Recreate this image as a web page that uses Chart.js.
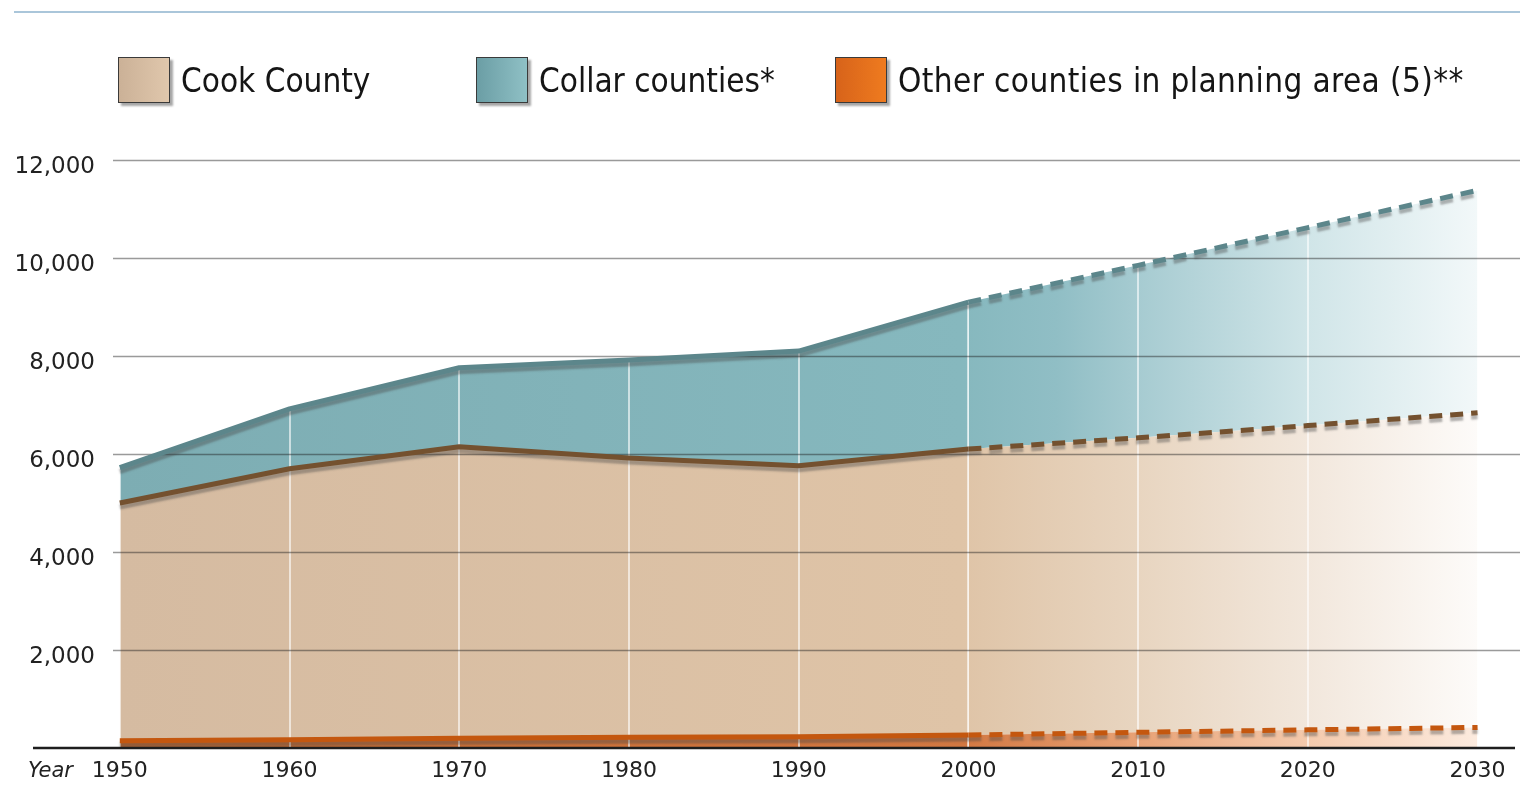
<!DOCTYPE html>
<html>
<head>
<meta charset="utf-8">
<script src="https://cdn.jsdelivr.net/npm/chart.js@4/dist/chart.umd.min.js"></script>
<style>
  body { margin: 0; background: #fff; }
  #wrap { position: relative; width: 1520px; height: 786px; }
  #regua { position: absolute; left: 14px; right: 0; top: 11px; height: 2px; background: #aac6da; }
  .item { position: absolute; top: 57px; height: 46px; display: flex; align-items: center; }
  .caixa { width: 50px; height: 44px; border: 1px solid #3a3a3a; box-shadow: 3px 3px 2px rgba(0,0,0,0.35); }
  .texto { margin-left: 11px; font-family: 'DejaVu Sans Condensed', 'DejaVu Sans', sans-serif; font-stretch: condensed; font-size: 33px; color: #151515; }
</style>
</head>
<body>
<div id="wrap">
  <canvas id="grafico"></canvas>
  <div id="regua"></div>
  <div class="item" style="left:118px"><div class="caixa" style="background:linear-gradient(90deg,#cbb197,#e0c7ac)"></div><span class="texto">Cook County</span></div>
  <div class="item" style="left:476px"><div class="caixa" style="background:linear-gradient(90deg,#6b9ea5,#8fc0c5)"></div><span class="texto">Collar counties*</span></div>
  <div class="item" style="left:835px"><div class="caixa" style="background:linear-gradient(90deg,#d7631a,#ef7b1f)"></div><span class="texto" style="letter-spacing:0.4px">Other counties in planning area (5)**</span></div>
</div>
<script>
const anos = [1950, 1960, 1970, 1980, 1990, 2000, 2010, 2020, 2030]
const outrosCondados = [150, 170, 200, 220, 230, 265, 320, 370, 420]
const cookCounty = [5000, 5700, 6150, 5920, 5760, 6100, 6330, 6580, 6840]
const collarCounties = [5720, 6920, 7760, 7920, 8100, 9100, 9850, 10620, 11380]
const ticksY = [0, 2000, 4000, 6000, 8000, 10000, 12000]
const nomes = ['Other counties in planning area (5)**', 'Cook County', 'Collar counties*']
const ULTIMO_REAL = 5 // a partir de 2000 é projeção

function degrade(paradas) {
    return c => {
        const chart = c.chart
        if (!chart.chartArea) return paradas[0][1]
        const x = chart.scales.x
        const g = chart.ctx.createLinearGradient(x.getPixelForValue(anos[0]), 0, x.getPixelForValue(anos[anos.length - 1]), 0)
        paradas.forEach(p => g.addColorStop(p[0], p[1]))
        return g
    }
}

const tracejado = { borderDash: c => c.p0DataIndex >= ULTIMO_REAL ? [13, 8] : undefined }

const enfeites = {
    id: 'enfeites',
    beforeDatasetsDraw(chart) {
        const { ctx, chartArea, scales: { x, y } } = chart
        ctx.save()
        // linhas verticais brancas por cima do preenchimento
        ctx.strokeStyle = 'rgba(255,255,255,0.6)'
        ctx.lineWidth = 2
        anos.forEach(a => {
            const px = Math.round(x.getPixelForValue(a))
            ctx.beginPath()
            ctx.moveTo(px, chartArea.top)
            ctx.lineTo(px, chartArea.bottom)
            ctx.stroke()
        })
        // grade horizontal
        ctx.strokeStyle = 'rgba(30,30,30,0.45)'
        ctx.lineWidth = 1.5
        ticksY.filter(v => v > 0).forEach(v => {
            const py = Math.round(y.getPixelForValue(v)) + 0.5
            ctx.beginPath()
            ctx.moveTo(chartArea.left, py)
            ctx.lineTo(chartArea.right, py)
            ctx.stroke()
        })
        ctx.restore()
    },
    beforeDatasetDraw(chart) {
        const ctx = chart.ctx
        ctx.save()
        ctx.shadowColor = 'rgba(70,70,70,0.4)'
        ctx.shadowOffsetY = 4
        ctx.shadowBlur = 2
    },
    afterDatasetDraw(chart) {
        chart.ctx.restore()
    },
    afterDatasetsDraw(chart) {
        const { ctx, chartArea, scales: { y } } = chart
        const base = y.getPixelForValue(0)
        ctx.save()
        ctx.strokeStyle = '#1e1e1e'
        ctx.lineWidth = 2.5
        ctx.beginPath()
        ctx.moveTo(33, base)
        ctx.lineTo(chartArea.right - 5, base)
        ctx.stroke()
        ctx.fillStyle = '#222'
        ctx.font = 'italic 21px "DejaVu Sans"'
        ctx.textBaseline = 'middle'
        ctx.textAlign = 'left'
        ctx.fillText('Year', 28, base + 24)
        ctx.restore()
    }
}

new Chart(document.getElementById('grafico'), {
    type: 'line',
    data: {
        datasets: [{
            label: nomes[0],
            data: anos.map((a, i) => ({ x: a, y: outrosCondados[i] })),
            borderColor: '#c4570f',
            borderWidth: 5,
            fill: 'origin',
            backgroundColor: degrade([[0, '#c96b30'], [0.62, '#d27842'], [0.75, '#e8a276'], [0.875, '#f4caad'], [1, '#fcebdf']]),
            segment: tracejado
        }, {
            label: nomes[1],
            data: anos.map((a, i) => ({ x: a, y: cookCounty[i] })),
            borderColor: '#74512f',
            borderWidth: 5,
            fill: '-1',
            backgroundColor: degrade([[0, '#d5bba1'], [0.62, '#dfc4a7'], [0.75, '#e8d5c0'], [0.875, '#f2e7dc'], [1, '#fdfbf9']]),
            segment: tracejado
        }, {
            label: nomes[2],
            data: anos.map((a, i) => ({ x: a, y: collarCounties[i] })),
            borderColor: '#5c868b',
            borderWidth: 5,
            fill: '-1',
            backgroundColor: degrade([[0, '#7dadb3'], [0.62, '#86b8be'], [0.69, '#90bec5'], [0.75, '#a6cbd1'], [0.875, '#d0e5e8'], [1, '#f2f8f9']]),
            segment: tracejado
        }]
    },
    options: {
        responsive: true,
        maintainAspectRatio: false,
        animation: false,
        layout: { padding: { top: 160, left: 0, right: 0, bottom: 0 } },
        elements: { point: { radius: 0 }, line: { tension: 0, borderCapStyle: 'butt', borderJoinStyle: 'round' } },
        plugins: {
            legend: { display: false },
            tooltip: { enabled: false },
            filler: { drawTime: 'beforeDatasetsDraw' }
        },
        scales: {
            x: {
                type: 'linear',
                min: 1949.6,
                max: 2032.5,
                border: { display: false },
                grid: { display: false, drawTicks: false },
                afterBuildTicks: s => { s.ticks = anos.map(v => ({ value: v })) },
                afterFit: s => { s.height = 38 },
                ticks: {
                    padding: 10,
                    color: '#222',
                    font: { family: 'DejaVu Sans', size: 22 },
                    callback: v => String(v)
                }
            },
            y: {
                min: 0,
                max: 12000,
                border: { display: false },
                grid: { display: false, drawTicks: false },
                afterBuildTicks: s => { s.ticks = ticksY.map(v => ({ value: v })) },
                afterFit: s => { s.width = 113 },
                ticks: {
                    padding: 18,
                    labelOffset: 7,
                    color: '#222',
                    font: { family: 'DejaVu Sans', size: 23 },
                    callback: v => v === 0 ? '' : v.toLocaleString('en-US')
                }
            }
        }
    },
    plugins: [enfeites]
})
</script>
</body>
</html>
